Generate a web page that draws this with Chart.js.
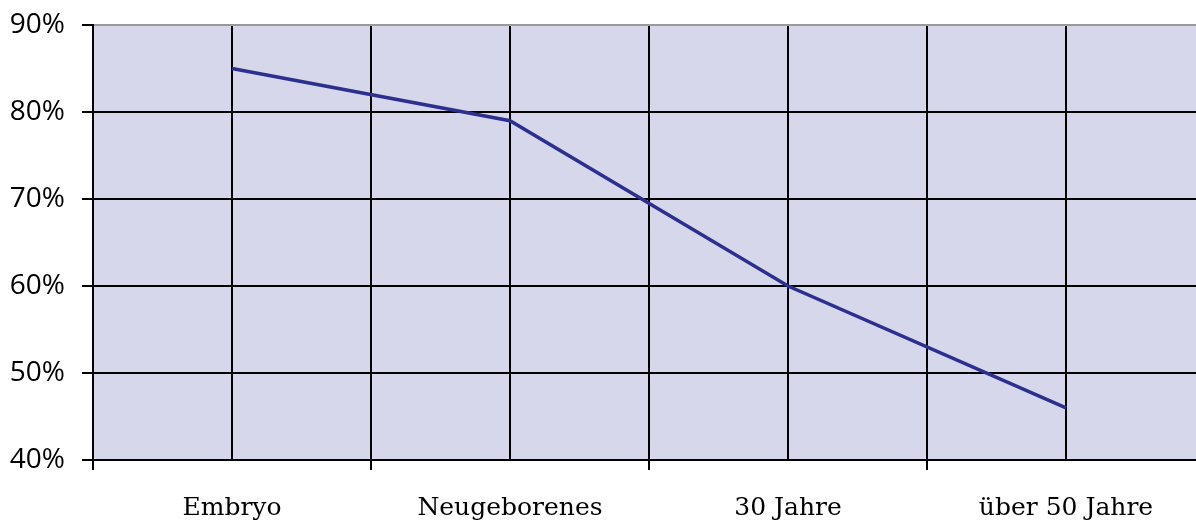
<!DOCTYPE html>
<html>
<head>
<meta charset="utf-8">
<script src="https://cdn.jsdelivr.net/npm/chart.js@4/dist/chart.umd.min.js"></script>
<style>
  html, body { margin: 0; padding: 0; background: #ffffff; overflow: hidden; }
  #wrap { width: 1206px; height: 521px; }
</style>
</head>
<body>
<div id="wrap"><canvas id="c" width="1206" height="521"></canvas></div>
<script>
const categories = ["Embryo", "Neugeborenes", "30 Jahre", "über 50 Jahre"];
const values = [85, 79, 60, 46];
const yTicks = [40, 50, 60, 70, 80, 90];

const points = categories.map((c, i) => ({ x: 2 * i + 1, y: values[i] }));

const plotBg = {
  id: 'plotBg',
  beforeDraw(chart) {
    const a = chart.chartArea, ctx = chart.ctx;
    ctx.save();
    ctx.fillStyle = '#d7d7eb';
    ctx.fillRect(a.left, a.top, a.right - a.left, a.bottom - a.top);
    ctx.restore();
  }
};

new Chart(document.getElementById('c'), {
  type: 'line',
  data: {
    datasets: [{
      data: points,
      borderColor: '#2c2f8e',
      borderWidth: 3.5,
      pointRadius: 0,
      tension: 0,
      fill: false
    }]
  },
  options: {
    responsive: false,
    devicePixelRatio: 1,
    animation: false,
    layout: { padding: { top: 25, right: 1, left: 0, bottom: 0 } },
    plugins: { legend: { display: false }, tooltip: { enabled: false } },
    scales: {
      x: {
        type: 'linear',
        min: 0,
        max: 2 * categories.length,
        afterBuildTicks: s => { s.ticks = Array.from({ length: 2 * categories.length + 1 }, (_, i) => ({ value: i })); },
        afterFit: s => { s.height = 61; s.paddingLeft = 0; s.paddingRight = 0; },
        grid: {
          color: '#000000',
          lineWidth: 2,
          tickLength: 10,
          tickColor: ctx => (ctx.tick && ctx.tick.value % 2 === 0) ? '#000000' : 'rgba(0,0,0,0)'
        },
        border: { color: '#000000', width: 2 },
        ticks: {
          autoSkip: false,
          maxRotation: 0,
          padding: 23,
          color: '#000000',
          font: { family: 'DejaVu Serif', size: 25 },
          callback: v => (v % 2 === 1) ? categories[(v - 1) / 2] : ''
        }
      },
      y: {
        min: yTicks[0],
        max: yTicks[yTicks.length - 1],
        afterBuildTicks: s => { s.ticks = yTicks.map(v => ({ value: v })); },
        afterFit: s => { s.width = 93; s.paddingTop = 0; s.paddingBottom = 0; },
        grid: {
          color: ctx => (ctx.tick && ctx.tick.value === yTicks[yTicks.length - 1]) ? '#9a9a9a' : '#000000',
          lineWidth: 2,
          tickLength: 11,
          tickColor: '#000000'
        },
        border: { color: '#000000', width: 2 },
        ticks: {
          padding: 17,
          color: '#000000',
          font: { family: 'Open Sans', size: 28 },
          callback: v => v + '%'
        }
      }
    }
  },
  plugins: [plotBg]
});
</script>
</body>
</html>
